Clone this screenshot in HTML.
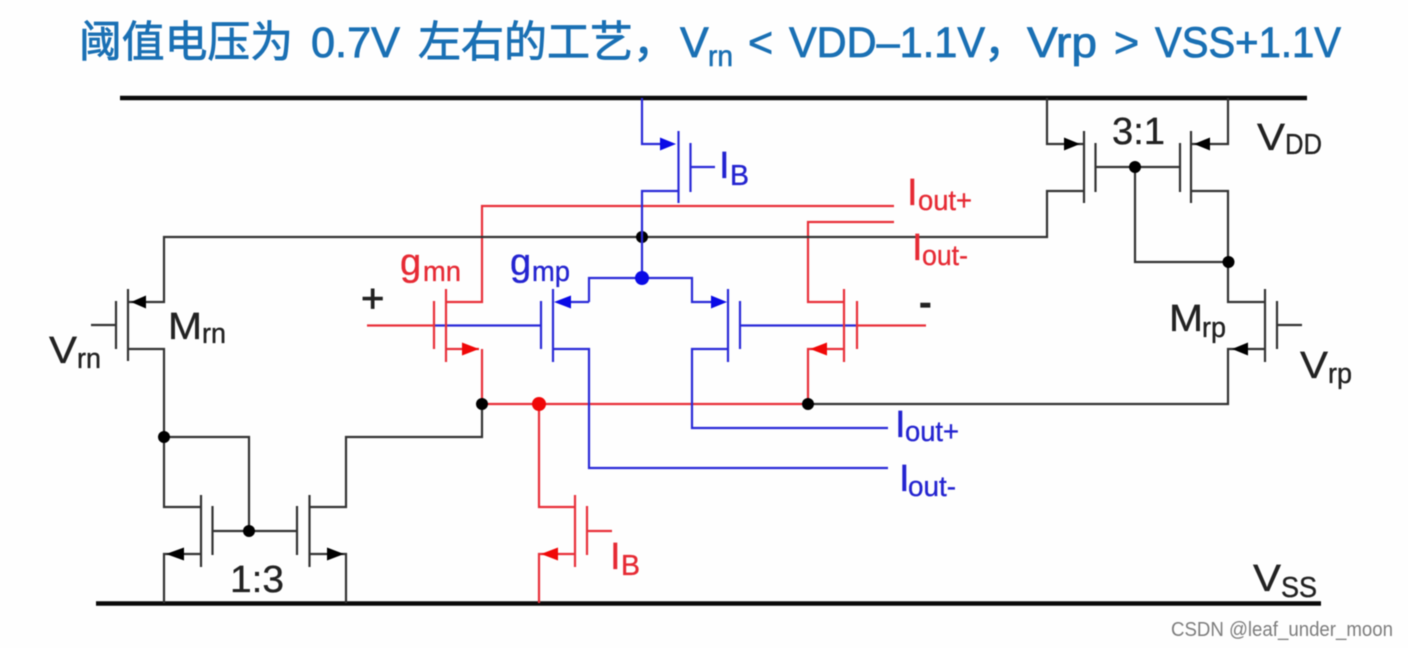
<!DOCTYPE html>
<html><head><meta charset="utf-8"><style>
html,body{margin:0;padding:0;background:#fefefe}
svg{display:block;position:absolute;left:0;top:0;filter:blur(.55px)}
text{font-family:"Liberation Sans","Noto Sans CJK SC",sans-serif}
.k path,.k line{stroke:#333;fill:none;stroke-width:2.2}
.b path,.b line{stroke:#2a2ad8;fill:none;stroke-width:2.2}
.r path,.r line{stroke:#e8303a;fill:none;stroke-width:2.2}
.k polygon,.k circle{fill:#000}.b polygon,.b circle{fill:#0b0be6}.r polygon,.r circle{fill:#f00808}
.t{fill:#1a70b4;font-size:43px;stroke:#1a70b4;stroke-width:.8px}.s{fill:#1a70b4;font-size:30px;stroke:#1a70b4;stroke-width:.6px}
.lk{fill:#222;stroke:#222;stroke-width:.35px}.lb{fill:#2424d0;stroke:#2424d0;stroke-width:.35px}.lr{fill:#e62a34;stroke:#e62a34;stroke-width:.35px}
.big{font-size:38px}.sm{font-size:29px}
</style></head><body>
<svg width="1408" height="648" viewBox="0 0 1408 648" xmlns="http://www.w3.org/2000/svg">
<rect width="1408" height="648" fill="#fefefe"/>
<!-- title -->
<text class="t" x="79" y="57" textLength="214" lengthAdjust="spacingAndGlyphs">阈值电压为</text>
<text class="t" x="311" y="57" textLength="89" lengthAdjust="spacingAndGlyphs">0.7V</text>
<text class="t" x="418" y="57" textLength="258" lengthAdjust="spacingAndGlyphs">左右的工艺，</text>
<text class="t" x="680" y="57">V</text>
<text class="s" x="708" y="66" textLength="25" lengthAdjust="spacingAndGlyphs">rn</text>
<text class="t" x="748" y="57">&lt;</text>
<text class="t" x="789" y="57" textLength="196" lengthAdjust="spacingAndGlyphs">VDD–1.1V</text>
<text class="t" x="984" y="57">，</text>
<text class="t" x="1027" y="57" textLength="70" lengthAdjust="spacingAndGlyphs">Vrp</text>
<text class="t" x="1114" y="57">&gt;</text>
<text class="t" x="1155" y="57" textLength="186" lengthAdjust="spacingAndGlyphs">VSS+1.1V</text>

<!-- rails -->
<line x1="120" y1="98" x2="1307" y2="98" stroke="#0a0a0a" stroke-width="4.5"/>
<line x1="96" y1="603.5" x2="1321" y2="603.5" stroke="#0a0a0a" stroke-width="4.5"/>

<!-- red -->
<g class="r">
<path d="M482 349V404"/>
<path d="M482 404H808"/>
<path d="M367 325.5H434"/>
<path d="M857 325.5H926"/>
<path d="M894 206H482V302H446"/>
<path d="M446 349H479"/>
<path d="M894 222H808V302H844"/>
<path d="M844 349H808V404"/>
<path d="M539 404V507H575"/>
<path d="M575 554H539V603"/>
<path d="M587 531H612"/>
<polygon points="479,349 462,342.5 462,355.5"/>
<polygon points="810,349 827,342.5 827,355.5"/>
<polygon points="541,554 558,547.5 558,560.5"/>
<circle cx="539" cy="404" r="7"/>
</g>

<!-- black -->
<g class="k">
<path d="M1047 98V144H1065"/>
<path d="M1228 98V144H1209"/>
<path d="M1065 144H1084M1209 144H1191"/>
<path d="M1084 191H1047V237H164V302H128"/>
<path d="M1191 191H1228V302H1265"/>
<path d="M1084 131V203M1095.500 143V192M1180 143V192M1191 131V203"/>
<path d="M1095 167H1180"/>
<path d="M1135 167V262H1228"/>
<path d="M128 289V361M116 301V349M91 325H116"/>
<path d="M128 349H164V507H201"/>
<path d="M164 437H249V531"/>
<path d="M201 495V567M212.500 506V555M297 506V555M309.500 495V567"/>
<path d="M212 531H297"/>
<path d="M201 554H164V603"/>
<path d="M309 507H346V437H482V404"/>
<path d="M309 554H346V603"/>
<path d="M808 404H1228V349H1265"/>
<path d="M1265 289V362M1277 301V349M1277 325H1302"/>
<polygon points="1080,144 1064,137.500 1064,150.500"/>
<polygon points="1194,144 1210,137.500 1210,150.500"/>
<polygon points="131,302 146,295.500 146,308.500"/>
<polygon points="166,554 184,547.500 184,560.500"/>
<polygon points="344,554 327,547.500 327,560.500"/>
<polygon points="1232,349 1248,342.500 1248,355.500"/>
<circle cx="642" cy="237" r="6"/>
<circle cx="1135" cy="167" r="6"/>
<circle cx="1228.500" cy="262" r="6"/>
<circle cx="164" cy="437" r="6"/>
<circle cx="249" cy="531" r="6"/>
<circle cx="482" cy="404" r="6"/>
<circle cx="808" cy="404" r="6"/>
</g>

<!-- blue -->
<g class="b">
<path d="M642 98V144H662"/>
<path d="M678.500 191H642V278"/>
<path d="M678.500 131V203M690.500 143V192M690 167H715"/>
<path d="M589 302V278H692V302H712"/>
<path d="M570 302H589"/>
<path d="M553 349H589V468H888"/>
<path d="M728 349H692V428H888"/>
<path d="M434 325.500H541"/>
<path d="M740 325.500H857"/>
<path d="M541 301V349M553 289V362M728 289V362M740 301V349"/>
<polygon points="676,144 660,137.500 660,150.500"/>
<polygon points="554,302 571,295.500 571,308.500"/>
<polygon points="727,302 711,295.500 711,308.500"/>
<circle cx="642" cy="278" r="7"/>
</g>

<!-- red transistor bars on top -->
<g class="r">
<path d="M434 301V349M446 289V362M844 289V362M857 301V349"/>
<path d="M575 495V567M587 506V555"/>
</g>

<!-- labels -->
<g class="lb">
<text class="big" x="719" y="178">I</text><text class="sm" x="730" y="185" textLength="19" lengthAdjust="spacingAndGlyphs">B</text>
<text class="big" x="895" y="437">I</text><text class="sm" x="905" y="441" textLength="54" lengthAdjust="spacingAndGlyphs">out+</text>
<text class="big" x="899" y="491">I</text><text class="sm" x="908" y="496" textLength="48" lengthAdjust="spacingAndGlyphs">out-</text>
<text class="big" x="510" y="275" font-size="39">g</text><text class="sm" x="532" y="281" textLength="38" lengthAdjust="spacingAndGlyphs">mp</text>
</g>
<g class="lr">
<text class="big" x="907" y="205">I</text><text class="sm" x="918" y="210" textLength="54" lengthAdjust="spacingAndGlyphs">out+</text>
<text class="big" x="912" y="260">I</text><text class="sm" x="922" y="265" textLength="46" lengthAdjust="spacingAndGlyphs">out-</text>
<text class="big" x="610" y="569">I</text><text class="sm" x="621" y="575" textLength="19" lengthAdjust="spacingAndGlyphs">B</text>
<text class="big" x="400" y="275">g</text><text class="sm" x="423" y="281" textLength="38" lengthAdjust="spacingAndGlyphs">mn</text>
</g>
<g class="lk">
<text x="361" y="312" font-size="40" stroke-width=".8">+</text>
<text x="919" y="315" font-size="38" font-weight="bold">-</text>
<text class="big" x="1257" y="150" textLength="28" lengthAdjust="spacingAndGlyphs">V</text><text class="sm" x="1285" y="154" textLength="37" lengthAdjust="spacingAndGlyphs">DD</text>
<text class="big" x="1112" y="144" textLength="53" lengthAdjust="spacingAndGlyphs">3:1</text>
<text class="big" x="230" y="592" textLength="54" lengthAdjust="spacingAndGlyphs">1:3</text>
<text class="big" x="49" y="363" textLength="28" lengthAdjust="spacingAndGlyphs">V</text><text class="sm" x="77" y="368" textLength="24" lengthAdjust="spacingAndGlyphs">rn</text>
<text class="big" x="168" y="339" textLength="34" lengthAdjust="spacingAndGlyphs">M</text><text class="sm" x="202" y="343" textLength="24" lengthAdjust="spacingAndGlyphs">rn</text>
<text class="big" x="1169" y="331" textLength="34" lengthAdjust="spacingAndGlyphs">M</text><text class="sm" x="1202" y="337" textLength="24" lengthAdjust="spacingAndGlyphs">rp</text>
<text class="big" x="1300" y="378" textLength="28" lengthAdjust="spacingAndGlyphs">V</text><text class="sm" x="1328" y="383" textLength="24" lengthAdjust="spacingAndGlyphs">rp</text>
<text class="big" x="1253" y="591" textLength="28" lengthAdjust="spacingAndGlyphs">V</text><text class="sm" x="1281" y="597" textLength="36" lengthAdjust="spacingAndGlyphs">SS</text>
</g>
<text x="1171" y="636" font-size="20" fill="#7d7d7d" textLength="222" lengthAdjust="spacingAndGlyphs">CSDN @leaf_under_moon</text>
</svg>
</body></html>
